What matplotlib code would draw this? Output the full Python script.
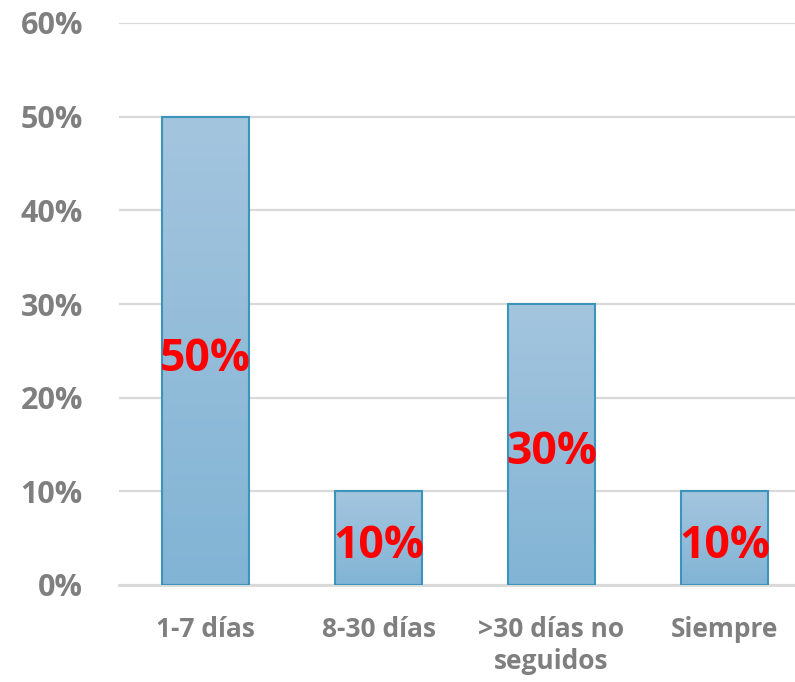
import matplotlib
matplotlib.use("Agg")
import matplotlib.pyplot as plt
import numpy as np
from matplotlib.colors import LinearSegmentedColormap

categories = ["1-7 días", "8-30 días", ">30 días no\nseguidos", "Siempre"]
values = [50, 10, 30, 10]
yticks = [0, 10, 20, 30, 40, 50, 60]

plt.rcParams['font.family'] = ['Open Sans', 'DejaVu Sans']

fig = plt.figure(figsize=(7.95, 6.82), dpi=100)
ax = fig.add_axes([119/795, 97/682, 692/795, 562/682])

x = np.arange(len(categories))
bars = ax.bar(x, values, width=0.503, color='none', edgecolor='#3a94bb', linewidth=1.5, zorder=3)
cmap = LinearSegmentedColormap.from_list('g', ['#82b4d5', '#a4c5de'])
grad = np.linspace(0, 1, 256).reshape(-1, 1)
for b in bars:
    x0, y0 = b.get_x(), b.get_y()
    w, h = b.get_width(), b.get_height()
    im = ax.imshow(grad, cmap=cmap, origin='lower', aspect='auto',
                   extent=(x0, x0 + w, y0, y0 + h), zorder=2)
    im.set_clip_path(b)

ax.set_xlim(-0.5, 3.5)
ax.set_ylim(0, 60)
ax.set_yticks(yticks)
ax.set_yticklabels([f"{t}%" for t in yticks], fontsize=22, fontweight='bold', color='#7f7f7f')
ax.set_xticks(x)
ax.set_xticklabels(categories, fontsize=19, fontweight='bold', color='#7f7f7f', linespacing=1.25)
ax.tick_params(axis='both', length=0)
ax.tick_params(axis='y', pad=26)
ax.tick_params(axis='x', pad=22)
ax.grid(axis='y', color='#d9d9d9', linewidth=1.6, zorder=0)
for s in ['top', 'right', 'left']:
    ax.spines[s].set_visible(False)
ax.spines['bottom'].set_color('#d9d9d9')
ax.spines['bottom'].set_linewidth(2)
ax.spines['bottom'].set_zorder(1)

for xi, v in zip(x, values):
    ax.text(xi, v / 2 - 0.9, f"{v}%", ha='center', va='center', fontsize=32,
            fontweight='bold', color='#ff0000', zorder=5)

fig.savefig("out.png", dpi=100)
